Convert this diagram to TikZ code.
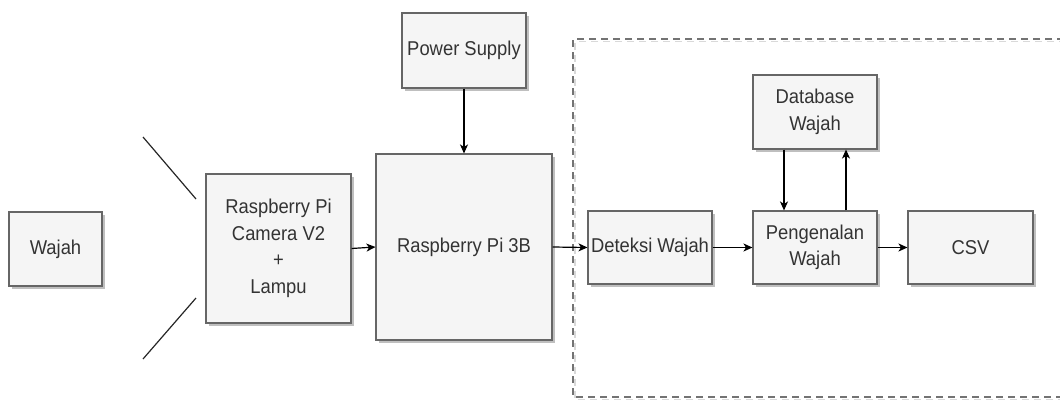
\documentclass[tikz,border=0pt]{standalone}
\usepackage{fontspec}
\setmainfont{Liberation Sans}[FakeStretch=0.92]
\usetikzlibrary{arrows.meta,shadows}
\definecolor{boxfill}{HTML}{F5F5F5}
\definecolor{boxline}{HTML}{666666}
\definecolor{txt}{HTML}{333333}
\tikzset{
  blk/.style={draw=boxline, fill=boxfill, line width=1.1pt, inner sep=0pt,
    align=center, text=txt, font=\fontsize{20}{26.5}\selectfont,
    drop shadow={shadow xshift=2.5pt, shadow yshift=-3pt, fill=black, opacity=0.25}},
  conn/.style={draw=black, line width=1.2pt, -{Stealth[length=9pt,width=8pt,inset=2.5pt]}},
  plain/.style={draw=black!85, line width=1.2pt},
  grp/.style={draw=black!55, line width=1.4pt, dash pattern=on 7pt off 5pt}
}
\begin{document}
\begin{tikzpicture}[x=1pt,y=-1pt]
\useasboundingbox (0,0) rectangle (1060,399);
% dashed group (right side runs off the picture)
\draw[grp, draw=black!15, line width=1.6pt, shift={(2pt,-2.5pt)}] (1064,39) -- (573,39) -- (573,397) -- (1064,397);
\draw[grp] (1064,39) -- (573,39) -- (573,397) -- (1064,397);
% blocks
\node[blk, minimum width=93pt, minimum height=74pt] (wajah) at (55.5,249) {Wajah};
\node[blk, minimum width=145pt, minimum height=149pt] (cam) at (278.5,248.5) {Raspberry Pi\\Camera V2\\+\\Lampu};
\node[blk, minimum width=176pt, minimum height=186pt] (rpi) at (464,247) {Raspberry Pi 3B};
\node[blk, minimum width=124pt, minimum height=75pt] (ps) at (464,50.5) {Power Supply};
\node[blk, minimum width=124pt, minimum height=74pt] (db) at (815,112) {Database\\Wajah};
\node[blk, minimum width=124pt, minimum height=73pt] (det) at (650,247.5) {Deteksi Wajah};
\node[blk, minimum width=124pt, minimum height=73pt] (peng) at (815,247.5) {Pengenalan\\Wajah};
\node[blk, minimum width=125pt, minimum height=73pt] (csv) at (970.5,247.5) {CSV};
% camera view lines
\coordinate (v1a) at (143,137);
\coordinate (v1b) at (196,199);
\coordinate (v2a) at (196,298);
\coordinate (v2b) at (143,359);
\draw[plain] (v1a) -- (v1b);
\draw[plain] (v2a) -- (v2b);
% connectors
\draw[conn] (cam.east) -- (rpi.west);
\draw[conn] (ps.south) -- (rpi.north);
\draw[conn] (rpi.east) -- (det.west);
\draw[conn] (det.east) -- (peng.west);
\draw[conn] (peng.east) -- (csv.west);
\draw[conn] (db.south -| 784,0) -- (peng.north -| 784,0);
\draw[conn] (peng.north -| 846,0) -- (db.south -| 846,0);
\end{tikzpicture}
\end{document}
